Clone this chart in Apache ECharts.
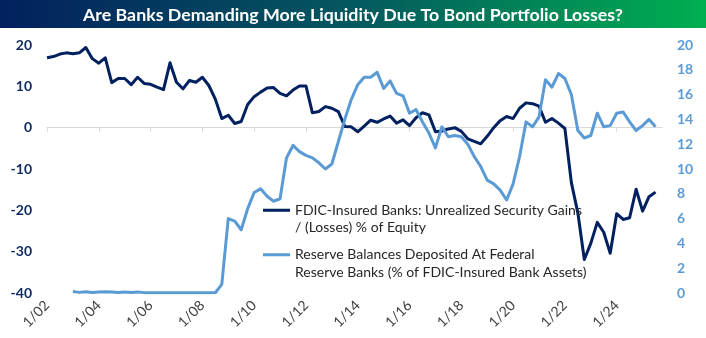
<!DOCTYPE html>
<html>
<head>
<meta charset="utf-8">
<script src="https://cdn.jsdelivr.net/npm/echarts@6/dist/echarts.min.js"></script>
<style>
  html, body { margin: 0; padding: 0; background: #ffffff; }
  #chart { width: 706px; height: 338px; }
</style>
</head>
<body>
<div id="chart"></div>
<script>
// Quarterly observations, Q1 2002 through Q3 2025
const startYear = 2002;
const quarterCount = 96; // axis runs one quarter past the last observation

// FDIC-insured banks: unrealized security gains / (losses), % of equity
const unrealizedGains = [
  16.9, 17.2, 17.8, 18.1, 17.9, 18.1, 19.4, 16.7, 15.6, 16.9,
  10.9, 11.9, 11.9, 10.4, 12.2, 10.7, 10.5, 9.8, 9.2, 15.7,
  11.0, 9.4, 11.4, 11.0, 12.2, 10.2, 6.9, 2.2, 3.0, 1.0,
  1.5, 5.6, 7.5, 8.6, 9.6, 9.7, 8.3, 7.7, 9.1, 10.1,
  10.1, 3.6, 3.9, 5.1, 4.7, 3.9, 0.3, 0.2, -1.0, 0.4,
  1.8, 1.3, 2.1, 2.8, 1.1, 1.9, 0.5, 2.4, 3.6, 3.1,
  -1.0, -0.8, -0.3, 0.0, -0.9, -2.7, -3.3, -3.9, -2.1, 0.0,
  1.7, 2.7, 2.2, 4.7, 6.0, 5.8, 5.2, 1.3, 2.2, 1.1,
  -0.2, -13.3, -20.6, -31.9, -28.0, -22.9, -25.3, -30.4, -20.8, -22.2,
  -21.8, -14.9, -20.2, -16.7, -15.6
];

// Reserve balances at Federal Reserve Banks, % of FDIC-insured bank assets
const reserveBalances = [
  null, null, null, null, 0.12, 0.05, 0.10, 0.04, 0.09, 0.10,
  0.08, 0.04, 0.09, 0.05, 0.08, 0.03, 0.02, 0.02, 0.02, 0.02,
  0.02, 0.02, 0.02, 0.02, 0.02, 0.02, 0.02, 0.7, 6.0, 5.8,
  5.1, 6.8, 8.1, 8.4, 7.8, 7.4, 7.6, 10.9, 11.9, 11.4,
  11.1, 10.9, 10.5, 10.0, 10.4, 12.2, 14.0, 15.6, 16.8, 17.4,
  17.4, 17.8, 16.5, 17.1, 16.1, 15.9, 14.5, 14.8, 13.8, 12.9,
  11.7, 13.4, 12.6, 12.7, 12.6, 12.0, 11.0, 10.2, 9.1, 8.8,
  8.3, 7.5, 8.8, 11.0, 13.8, 13.4, 14.2, 17.2, 16.6, 17.7,
  17.3, 16.0, 13.1, 12.5, 12.7, 14.5, 13.4, 13.5, 14.5, 14.6,
  13.8, 13.1, 13.5, 14.0, 13.4
];

const seriesNames = [
  'FDIC-Insured Banks: Unrealized Security Gains\n/ (Losses) % of Equity',
  'Reserve Balances Deposited At Federal\nReserve Banks (% of FDIC-Insured Bank Assets)'
];

const titleText = 'Are Banks Demanding More Liquidity Due To Bond Portfolio Losses?';

// Category labels in m/yy form at the start of each quarter
const quarterMonths = [1, 4, 7, 10];
const categories = [];
for (let i = 0; i < quarterCount; i++) {
  const y = startYear + Math.floor(i / 4);
  const m = quarterMonths[i % 4];
  categories.push(m + '/' + String(y % 100).padStart(2, '0'));
}

const navy = '#0e2a5f';
const lightBlue = '#5b9bd5';
const font = 'Lato, "Open Sans", sans-serif';

const chart = echarts.init(document.getElementById('chart'), null, { renderer: 'canvas' });

chart.setOption({
  animation: false,
  backgroundColor: '#ffffff',
  graphic: [
    {
      type: 'rect',
      left: 0, top: 0,
      shape: { width: 706, height: 28 },
      style: {
        fill: new echarts.graphic.LinearGradient(0, 0, 1, 0, [
          { offset: 0, color: '#03205e' },
          { offset: 0.5, color: '#04585f' },
          { offset: 1, color: '#00b050' }
        ])
      },
      z: 0
    },
    {
      type: 'text',
      x: 353, y: 15,
      style: {
        text: titleText,
        fill: '#ffffff',
        font: 'bold 17.8px ' + font,
        textAlign: 'center',
        textVerticalAlign: 'middle'
      },
      z: 1
    }
  ],
  grid: { left: 47, right: 44, top: 45, bottom: 45, containLabel: false },
  legend: {
    orient: 'vertical',
    left: 263,
    top: 184,
    padding: 0,
    itemGap: -8,
    itemWidth: 27,
    itemHeight: 3,
    icon: 'rect',
    data: seriesNames,
    // a leading blank line keeps each swatch level with the first text line
    formatter: function (name) { return '\n' + name; },
    textStyle: {
      fontFamily: font,
      fontSize: 14,
      color: '#262626',
      lineHeight: 17.5
    }
  },
  xAxis: [
    {
      type: 'category',
      data: categories,
      boundaryGap: false,
      position: 'bottom',
      axisLine: { show: true, onZero: true, onZeroAxisIndex: 0, lineStyle: { color: '#d9d9d9', width: 1 } },
      axisTick: { show: true, interval: 7, length: 4, lineStyle: { color: '#d9d9d9' } },
      axisLabel: { show: false },
      splitLine: { show: false }
    },
    {
      type: 'category',
      data: categories,
      boundaryGap: false,
      position: 'bottom',
      axisLine: { show: false, onZero: false },
      axisTick: { show: false },
      axisLabel: {
        interval: 7,
        rotate: 45,
        margin: 10,
        color: '#404040',
        fontFamily: font,
        fontSize: 14
      },
      splitLine: { show: false }
    }
  ],
  yAxis: [
    {
      type: 'value',
      position: 'left',
      min: -40, max: 20, interval: 10,
      axisLine: { show: false },
      axisTick: { show: false },
      splitLine: { show: false },
      axisLabel: { margin: 15, color: navy, fontFamily: font, fontSize: 14, fontWeight: 'bold' }
    },
    {
      type: 'value',
      position: 'right',
      min: 0, max: 20, interval: 2,
      axisLine: { show: false },
      axisTick: { show: false },
      splitLine: { show: false },
      axisLabel: { margin: 15, color: lightBlue, fontFamily: font, fontSize: 14, fontWeight: 'bold' }
    }
  ],
  series: [
    {
      name: seriesNames[0],
      type: 'line',
      xAxisIndex: 0,
      yAxisIndex: 0,
      data: unrealizedGains,
      symbol: 'none',
      color: '#002060',
      lineStyle: { width: 3, color: '#002060', join: 'round' },
      z: 2
    },
    {
      name: seriesNames[1],
      type: 'line',
      xAxisIndex: 0,
      yAxisIndex: 1,
      data: reserveBalances,
      symbol: 'none',
      color: lightBlue,
      lineStyle: { width: 3, color: lightBlue, join: 'round' },
      z: 3
    }
  ]
});
</script>
</body>
</html>
